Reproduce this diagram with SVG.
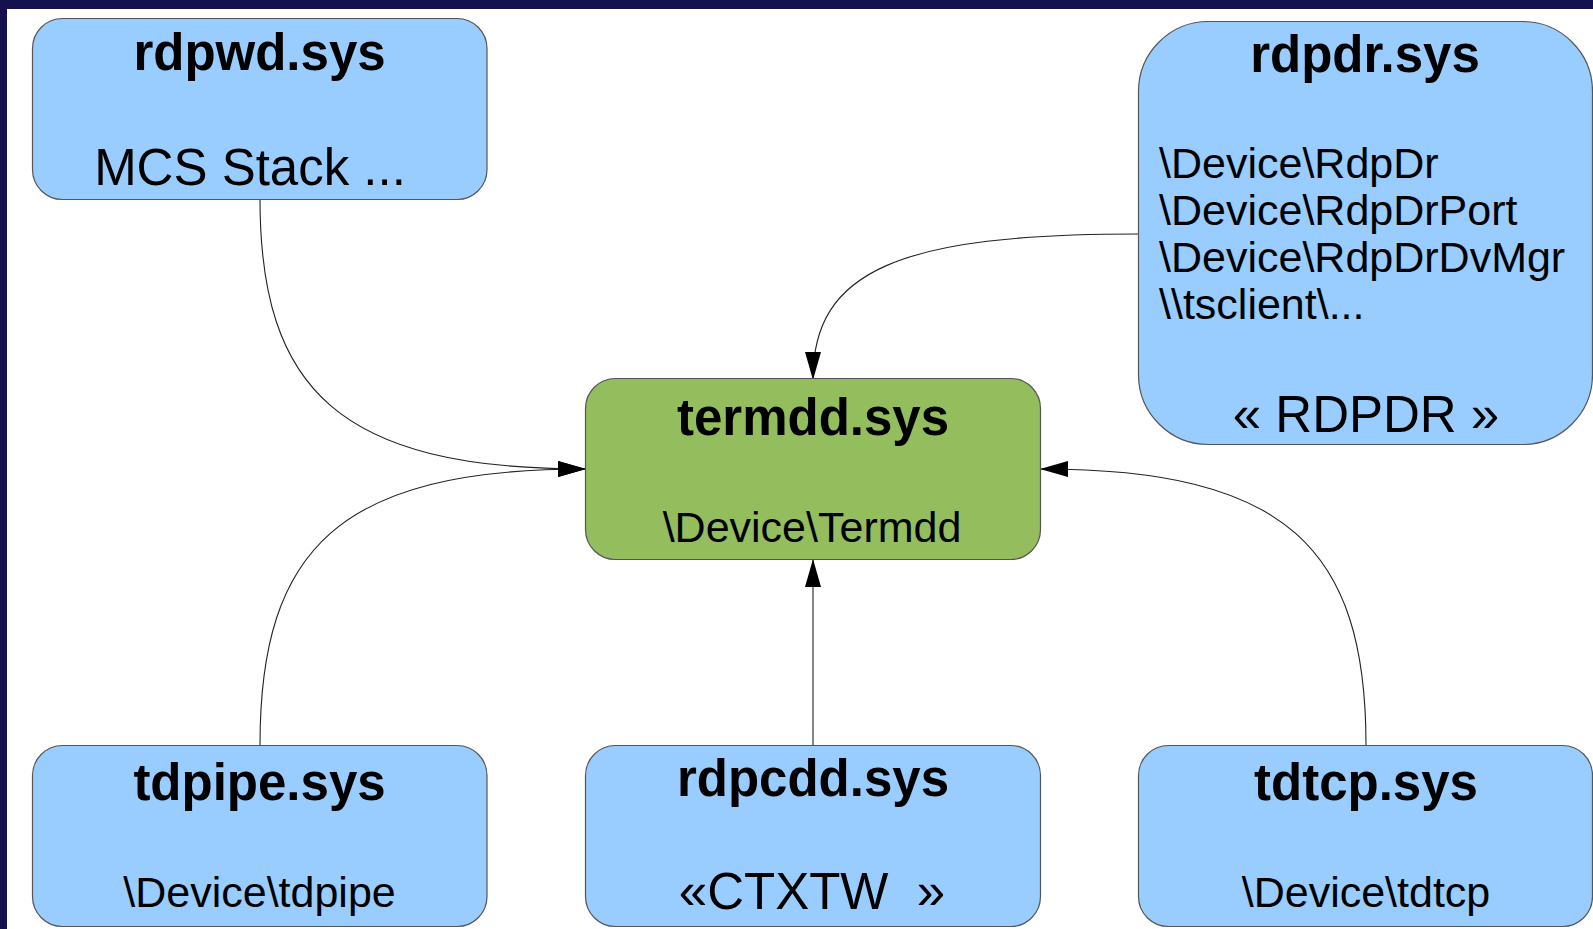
<svg xmlns="http://www.w3.org/2000/svg" width="1593" height="929" viewBox="0 0 1593 929">
<style>
.box{fill:#99ccff;stroke:#555;stroke-width:1.2}
.green{fill:#94bd5e;stroke:#555;stroke-width:1.2}
.t{font-family:"Liberation Sans",Arial,sans-serif;font-weight:bold;font-size:51px;fill:#000;text-anchor:middle}
.s{font-family:"Liberation Sans",Arial,sans-serif;font-size:43px;fill:#000;text-anchor:middle}
.b{font-family:"Liberation Sans",Arial,sans-serif;font-size:51px;fill:#000;text-anchor:middle}
.l{font-family:"Liberation Sans",Arial,sans-serif;font-size:43px;fill:#000}
.c{fill:none;stroke:#222;stroke-width:1.1;marker-end:url(#arr)}
</style>
<defs>
<marker id="arr" markerUnits="userSpaceOnUse" markerWidth="28" markerHeight="16" refX="27" refY="8" orient="auto">
<path d="M0,0 L28,8 L0,16 z" fill="#000"/>
</marker>
</defs>
<rect x="0" y="0" width="1593" height="929" fill="#15104e"/>
<rect x="7" y="9" width="1586" height="920" fill="#ffffff"/>
<g id="connectors">
<path class="c" d="M260,199 C260,390 340,469 585,469"/>
<path class="c" d="M260,745 C260,548 340,469 585,469"/>
<path class="c" d="M1366,745 C1366,548 1286,469 1041,469"/>
<path class="c" d="M813,745 L813,560"/>
<path class="c" d="M1139,234 C900,234 813,270 813,379"/>
</g>
<g id="rdpwd">
<rect class="box" x="32.5" y="18.5" width="454.5" height="181" rx="30" ry="30"/>
<text class="t" x="259.5" y="70">rdpwd.sys</text>
<text class="b" x="250" y="185">MCS Stack ...</text>
</g>
<g id="rdpdr">
<rect class="box" x="1138.5" y="21.5" width="454" height="423" rx="70" ry="70"/>
<text class="t" x="1365" y="72">rdpdr.sys</text>
<text class="l" x="1159" y="178">\Device\RdpDr</text>
<text class="l" x="1159" y="225">\Device\RdpDrPort</text>
<text class="l" x="1159" y="272">\Device\RdpDrDvMgr</text>
<text class="l" x="1159" y="319">\\tsclient\...</text>
<text class="b" x="1366" y="432">« RDPDR »</text>
</g>
<g id="termdd">
<rect class="green" x="585.5" y="378.5" width="455" height="181" rx="30" ry="30"/>
<text class="t" x="813" y="435">termdd.sys</text>
<text class="s" x="812" y="542">\Device\Termdd</text>
</g>
<g id="tdpipe">
<rect class="box" x="32.5" y="745.5" width="454.5" height="181" rx="30" ry="30"/>
<text class="t" x="259.5" y="800">tdpipe.sys</text>
<text class="s" x="259.5" y="907">\Device\tdpipe</text>
</g>
<g id="rdpcdd">
<rect class="box" x="585.5" y="745.5" width="455" height="181" rx="30" ry="30"/>
<text class="t" x="813" y="796">rdpcdd.sys</text>
<text class="b" x="812" y="909" xml:space="preserve" style="white-space:pre">«CTXTW  »</text>
</g>
<g id="tdtcp">
<rect class="box" x="1138.5" y="745.5" width="454" height="181" rx="30" ry="30"/>
<text class="t" x="1366" y="800">tdtcp.sys</text>
<text class="s" x="1366" y="907">\Device\tdtcp</text>
</g>
</svg>
